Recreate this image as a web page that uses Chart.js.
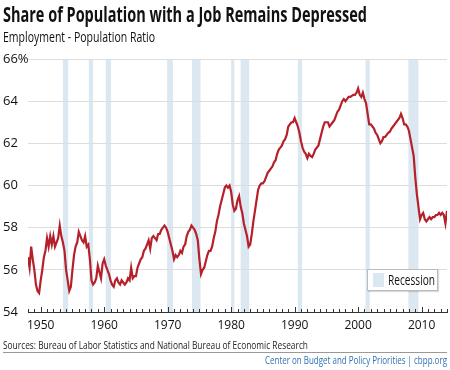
<!DOCTYPE html>
<html>
<head>
<meta charset="utf-8">
<script src="https://cdn.jsdelivr.net/npm/chart.js@4/dist/chart.umd.min.js"></script>
<style>
  html, body { margin: 0; padding: 0; background: #fff; }
  #wrap { position: relative; width: 450px; height: 370px; overflow: hidden;
          font-family: "Open Sans", "Noto Sans", sans-serif; }
  #c { position: absolute; left: 0; top: 0; }
  .fit { position: absolute; white-space: nowrap; transform-origin: 0 0; line-height: 1; }
  .title { left: 3px; top: 2px; font-size: 22px; font-weight: bold; color: #111; }
  .subtitle { left: 3px; top: 29px; font-size: 15px; color: #111; }
  .legend { position: absolute; left: 367px; top: 269px; width: 69px; height: 20px; border: 1px solid #bbb; background: #fff;
            box-shadow: 1px 1px 1px rgba(0,0,0,0.15); color: #111; }
  .legend .sw { position: absolute; left: 5px; top: 3px; width: 11px; height: 14px; background: #dbe7f1; }
  .legend .lt { left: 20px; top: 2px; font-size: 15px; }
  .sources { left: 3px; top: 340px; font-size: 10px; color: #222; }
  .rule { position: absolute; left: 3px; top: 352px; width: 444px; height: 1px; background: #999; }
  .credit { left: 265px; top: 355px; font-size: 10px; color: #2f6fb3; }
</style>
</head>
<body>
<div id="wrap">
  <canvas id="c" width="450" height="370"></canvas>
  <div class="fit title" data-w="364">Share of Population with a Job Remains Depressed</div>
  <div class="fit subtitle" data-w="152">Employment - Population Ratio</div>
  <div class="legend"><div class="sw"></div><div class="fit lt" data-w="47">Recession</div></div>
  <div class="fit sources" data-w="305">Sources: Bureau of Labor Statistics and National Bureau of Economic Research</div>
  <div class="rule"></div>
  <div class="fit credit" data-w="182">Center on Budget and Policy Priorities | cbpp.org</div>
</div>
<script>
// ---- Data (quarterly) ----
const startYear = 1948;
const periodsPerYear = 4;
const ratio = [
  56.6, 56.1, 57.1, 56.5,   // 1948
  56.0, 55.3, 55.0, 54.9,   // 1949
  55.5, 56.0, 56.6, 56.9,   // 1950
  57.5, 57.1, 57.6, 57.2,   // 1951
  57.6, 57.1, 57.3, 57.5,   // 1952
  58.1, 57.6, 57.3, 56.9,   // 1953
  56.0, 55.5, 55.0, 55.2,   // 1954
  56.0, 56.7, 57.1, 57.3,   // 1955
  57.8, 57.6, 57.4, 57.3,   // 1956
  57.6, 57.1, 57.2, 56.5,   // 1957
  55.5, 55.3, 55.4, 55.6,   // 1958
  56.2, 55.9, 55.6, 56.3,   // 1959
  56.5, 56.2, 56.0, 55.8,   // 1960
  55.5, 55.3, 55.2, 55.5,   // 1961
  55.6, 55.4, 55.3, 55.5,   // 1962
  55.4, 55.3, 55.4, 55.6,   // 1963
  55.5, 56.1, 55.6, 55.7,   // 1964
  55.7, 56.1, 56.3, 56.5,   // 1965
  56.6, 56.9, 57.0, 57.2,   // 1966
  57.4, 57.0, 57.5, 57.6,   // 1967
  57.5, 57.4, 57.7, 57.7,   // 1968
  57.9, 58.0, 58.1, 58.0,   // 1969
  57.8, 57.5, 57.2, 56.9,   // 1970
  56.5, 56.7, 56.6, 56.7,   // 1971
  56.9, 56.8, 57.1, 57.2,   // 1972
  57.6, 57.8, 57.9, 58.1,   // 1973
  58.0, 57.9, 57.7, 57.4,   // 1974
  56.5, 55.8, 56.0, 56.1,   // 1975
  56.4, 56.7, 56.9, 56.9,   // 1976
  57.1, 57.5, 57.8, 58.3,   // 1977
  58.6, 59.0, 59.3, 59.6,   // 1978
  59.9, 60.0, 59.9, 60.0,   // 1979
  59.7, 59.1, 58.8, 58.9,   // 1980
  59.3, 59.5, 59.0, 58.7,   // 1981
  58.2, 57.9, 57.6, 57.1,   // 1982
  57.2, 57.7, 58.3, 58.8,   // 1983
  59.3, 59.8, 60.0, 60.1,   // 1984
  60.1, 60.2, 60.4, 60.6,   // 1985
  60.7, 60.8, 60.9, 61.1,   // 1986
  61.2, 61.5, 61.7, 61.8,   // 1987
  61.9, 62.1, 62.2, 62.4,   // 1988
  62.8, 62.9, 63.0, 63.0,   // 1989
  63.2, 63.0, 62.8, 62.5,   // 1990
  62.1, 61.8, 61.6, 61.5,   // 1991
  61.3, 61.5, 61.4, 61.35,  // 1992
  61.5, 61.7, 61.8, 61.9,   // 1993
  62.2, 62.5, 62.8, 63.0,   // 1994
  63.0, 63.0, 62.8, 62.9,   // 1995
  63.0, 63.1, 63.3, 63.5,   // 1996
  63.6, 63.8, 64.0, 64.1,   // 1997
  64.0, 64.1, 64.2, 64.2,   // 1998
  64.25, 64.3, 64.3, 64.4,  // 1999
  64.6, 64.3, 64.2, 64.4,   // 2000
  64.1, 63.9, 63.4, 62.9,   // 2001
  62.9, 62.8, 62.7, 62.5,   // 2002
  62.4, 62.2, 62.0, 62.1,   // 2003
  62.3, 62.3, 62.4, 62.5,   // 2004
  62.55, 62.7, 62.8, 62.9,  // 2005
  63.0, 63.1, 63.2, 63.4,   // 2006
  63.2, 62.9, 62.9, 62.8,   // 2007
  62.6, 62.2, 61.8, 61.4,   // 2008
  60.4, 59.6, 59.0, 58.4,   // 2009
  58.6, 58.7, 58.4, 58.3,   // 2010
  58.4, 58.5, 58.4, 58.5,   // 2011
  58.5, 58.6, 58.6, 58.7,   // 2012
  58.6, 58.7, 58.6, 58.2,   // 2013
  58.8                      // 2014
];
// NBER recessions shown (decimal years)
const recessionStarts = [1953.5, 1957.58, 1960.25, 1969.92, 1973.83, 1980.0, 1981.5, 1990.5, 2001.17, 2007.92];
const recessionEnds   = [1954.33, 1958.25, 1961.08, 1970.83, 1975.17, 1980.5, 1982.83, 1991.17, 2001.83, 2009.5];
const yTicks = [54, 56, 58, 60, 62, 64, 66];
const xTickYears = [1950, 1960, 1970, 1980, 1990, 2000, 2010];
const xMin = 1948, xMax = 2014;

const points = ratio.map((v, i) => ({ x: startYear + i / periodsPerYear, y: v }));

// squeeze HTML text to the widths of the condensed original face
function fitTexts() {
  document.querySelectorAll('.fit').forEach(el => {
    el.style.transform = 'none';
    const w = el.getBoundingClientRect().width;
    const target = parseFloat(el.dataset.w);
    if (w > 0) el.style.transform = 'scaleX(' + (target / w) + ')';
  });
}
fitTexts();
if (document.fonts && document.fonts.ready) document.fonts.ready.then(fitTexts);

const FONT = '"Open Sans", "Noto Sans", sans-serif';

const bandsPlugin = {
  id: 'bands',
  beforeDraw(chart) {
    const { ctx, chartArea, scales } = chart;
    ctx.save();
    ctx.fillStyle = '#dbe7f1';
    recessionStarts.forEach((s, i) => {
      const x1 = scales.x.getPixelForValue(s);
      const x2 = scales.x.getPixelForValue(recessionEnds[i]);
      ctx.fillRect(x1, chartArea.top, x2 - x1, chartArea.bottom - chartArea.top);
    });
    ctx.restore();
  }
};

const ticksPlugin = {
  id: 'inTicks',
  afterDraw(chart) {
    const { ctx, chartArea, scales } = chart;
    ctx.save();
    ctx.strokeStyle = '#333';
    ctx.lineWidth = 1;
    for (let yr = xMin; yr <= xMax; yr++) {
      const x = Math.round(scales.x.getPixelForValue(yr)) + 0.5;
      const len = xTickYears.includes(yr) ? 5 : 3;
      ctx.beginPath();
      ctx.moveTo(x, chartArea.bottom);
      ctx.lineTo(x, chartArea.bottom - len);
      ctx.stroke();
    }
    ctx.restore();
  }
};

new Chart(document.getElementById('c'), {
  type: 'line',
  data: {
    datasets: [{
      label: 'Employment - Population Ratio',
      data: points,
      borderColor: '#b5202a',
      borderWidth: 2.2,
      pointRadius: 0,
      tension: 0,
      fill: false
    }]
  },
  options: {
    responsive: false,
    animation: false,
    events: [],
    layout: { padding: { left: 3, right: 3, top: 59, bottom: 0 } },
    plugins: { legend: { display: false }, tooltip: { enabled: false } },
    scales: {
      x: {
        type: 'linear',
        min: xMin, max: xMax,
        afterFit(scale) { scale.height = 58; },
        afterBuildTicks(scale) { scale.ticks = xTickYears.map(v => ({ value: v })); },
        grid: { display: false, drawTicks: false },
        border: { display: true, color: '#333', width: 1 },
        ticks: {
          autoSkip: false, maxRotation: 0, padding: 6,
          color: '#111', font: { family: FONT, size: 12 },
          callback: v => String(v)
        }
      },
      y: {
        min: 54, max: 66,
        afterFit(scale) { scale.width = 25; },
        afterBuildTicks(scale) { scale.ticks = yTicks.map(v => ({ value: v })); },
        grid: { color: '#dddddd', lineWidth: 1, drawTicks: false },
        border: { display: false },
        ticks: {
          crossAlign: 'far', padding: 4,
          color: '#111', font: { family: FONT, size: 13 },
          callback: v => (v === 66 ? '66%' : String(v))
        }
      }
    }
  },
  plugins: [bandsPlugin, ticksPlugin]
});
</script>
</body>
</html>
